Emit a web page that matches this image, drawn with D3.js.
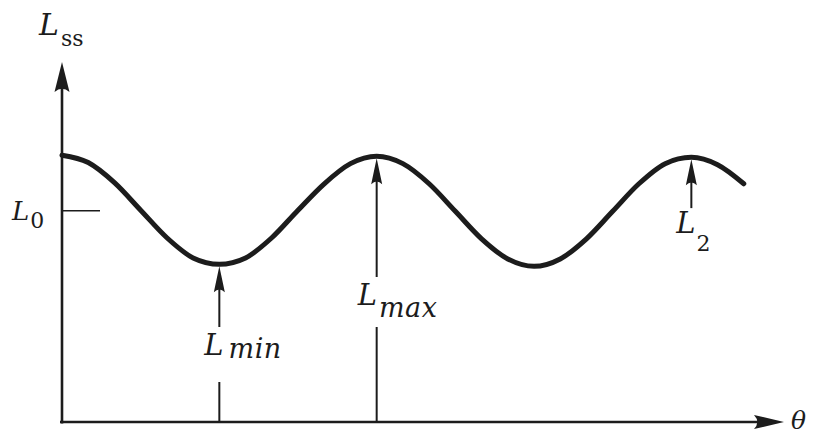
<!DOCTYPE html>
<html>
<head>
<meta charset="utf-8">
<script src="https://cdn.jsdelivr.net/npm/d3@7"></script>
<style>
  body { margin: 0; background: #fff; }
  svg { display: block; }
</style>
</head>
<body>
<svg id="chart" width="814" height="437"></svg>
<script>
// Steady-state value L_ss sampled along θ (degrees)
const thetaDeg = [0, 30, 60, 90, 120, 150, 180, 210, 240, 270, 300, 330, 360,
                  390, 420, 450, 480, 510, 540, 570, 600, 630, 660, 690, 720, 750, 780];
const steadyL  = [1.26, 1.225, 1.13, 1.00, 0.87, 0.775, 0.745, 0.775, 0.87, 1.00, 1.125, 1.22, 1.255,
                  1.22, 1.125, 0.995, 0.865, 0.77, 0.735, 0.77, 0.865, 0.995, 1.125, 1.22, 1.25, 1.215, 1.125];

// Reference level on the L axis
const L0 = 1.0;

// Marked points on the curve: subscript, θ position, and where each arrow starts
const markerSub    = ["min", "max", "2"];
const markerTheta  = [180, 360, 720];
const markerBaseL  = [0, 0, 1.01];

// Axis extents
const thetaMax = 826;
const lMax = 1.70;

const svg = d3.select("#chart");
const ink = "#1c1c1c";
const serif = "'DejaVu Serif', serif";

const x = d3.scaleLinear().domain([0, thetaMax]).range([62, 784]);
const y = d3.scaleLinear().domain([0, lMax]).range([422, 62]);

function label(parent, px, py) {
  return parent.append("text")
    .attr("x", px).attr("y", py)
    .style("font-family", serif)
    .attr("fill", ink);
}

// Filled arrowhead with its tip at (x1,y1), pointing along angle
function arrowHead(g, x1, y1, angle, len, hw) {
  const ca = Math.cos(angle), sa = Math.sin(angle);
  const pt = (a, b) => [x1 - a * ca - b * sa, y1 - a * sa + b * ca];
  const [bx1, by1] = pt(len, hw);
  const [bx2, by2] = pt(len, -hw);
  const [cx, cy] = pt(len * 0.78, 0);
  g.append("path")
    .attr("d", `M${x1},${y1}L${bx1},${by1}Q${cx},${cy} ${bx2},${by2}Z`)
    .attr("fill", ink);
}

// Axes
const axes = svg.append("g");
const xAxis = axes.append("g")
  .attr("transform", `translate(0,${y(0)})`)
  .call(d3.axisBottom(x).tickValues([]).tickSizeOuter(0));
xAxis.select(".domain").attr("stroke", ink).attr("stroke-width", 2.6)
  .attr("d", `M${x(0) - 2},0H${x(thetaMax) - 10}`);

const yAxis = axes.append("g")
  .attr("transform", `translate(${x(0)},0)`)
  .call(d3.axisLeft(y).tickValues([L0]).tickSize(-38).tickSizeOuter(0).tickFormat(""));
yAxis.select(".domain").attr("stroke", ink).attr("stroke-width", 2.6)
  .attr("d", `M0,${y(0) + 1.5}V${y(lMax) + 10}`);
yAxis.selectAll(".tick line").attr("stroke", ink).attr("stroke-width", 1.6);

arrowHead(axes, x(thetaMax), y(0), 0, 30, 7);
arrowHead(axes, x(0), y(lMax), -Math.PI / 2, 30, 7.5);

// Axis names
const lss = label(svg, 39, 35);
lss.append("tspan").attr("font-style", "italic").attr("font-size", 30).text("L");
lss.append("tspan").attr("font-size", 22).attr("dx", 2).attr("dy", 11).text("ss");

label(svg, 791, 429).attr("font-style", "italic").attr("font-size", 25).text("θ");

const l0 = label(svg, 12, 220);
l0.append("tspan").attr("font-style", "italic").attr("font-size", 26).text("L");
l0.append("tspan").attr("font-size", 22).attr("dx", 1).attr("dy", 8).text("0");

// Curve
const points = thetaDeg.map((t, i) => [t, steadyL[i]]);
svg.append("path")
  .datum(points)
  .attr("fill", "none")
  .attr("stroke", ink)
  .attr("stroke-width", 5)
  .attr("stroke-linecap", "round")
  .attr("d", d3.line().x(d => x(d[0])).y(d => y(d[1])).curve(d3.curveMonotoneX));

// Marker arrows and their labels
const labelLayout = [
  { dx: -15, base: 355, subDx: 5, subDy: 3,  subSize: 27, italicSub: true, gap: [-28, 27] },
  { dx: -19, base: 305, subDx: 2, subDy: 12, subSize: 27, italicSub: true, gap: [-28, 22] },
  { dx: -15, base: 233, subDx: 1, subDy: 18, subSize: 22, italicSub: false, gap: null }
];

markerSub.forEach((sub, i) => {
  const t = markerTheta[i];
  const tipL = steadyL[thetaDeg.indexOf(t)];
  const mx = x(t);
  const tipY = y(tipL) + 2;
  const baseY = y(markerBaseL[i]);
  const lay = labelLayout[i];
  const g = svg.append("g");
  const segs = lay.gap
    ? [[baseY, lay.base + lay.gap[1]], [lay.base + lay.gap[0], tipY + 20]]
    : [[baseY, tipY + 20]];
  segs.forEach(([a, b]) => {
    g.append("line").attr("x1", mx).attr("x2", mx).attr("y1", a).attr("y2", b)
      .attr("stroke", ink).attr("stroke-width", 2);
  });
  arrowHead(g, mx, tipY, -Math.PI / 2, 26, 5.5);

  const txt = label(g, mx + lay.dx, lay.base);
  txt.append("tspan").attr("font-style", "italic").attr("font-size", 29).text("L");
  txt.append("tspan")
    .attr("font-style", lay.italicSub ? "italic" : "normal")
    .attr("font-size", lay.subSize)
    .attr("letter-spacing", lay.italicSub ? 0.5 : 0)
    .attr("dx", lay.subDx).attr("dy", lay.subDy).text(sub);
});
</script>
</body>
</html>
